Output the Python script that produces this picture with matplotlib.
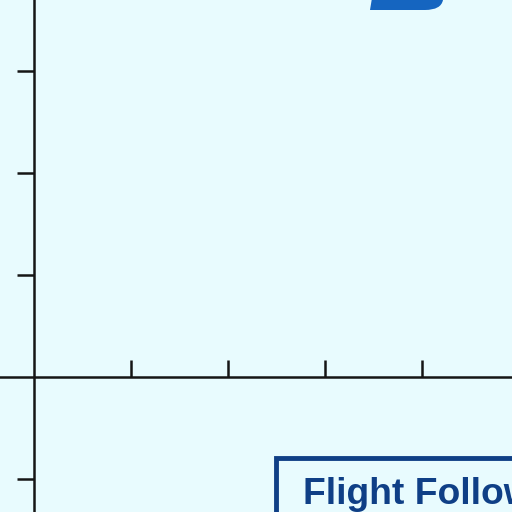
import matplotlib
matplotlib.use("Agg")
import matplotlib.pyplot as plt
from matplotlib.patches import Rectangle, PathPatch
from matplotlib.path import Path

# tick positions on the two crossing axes
x_ticks = [1, 2, 3, 4]
y_ticks = [-1, 1, 2, 3]
box_label = "Flight Following"

bg = "#e8fbfe"
axis_col = "#151515"

fig = plt.figure(figsize=(5.12, 5.12), dpi=100, facecolor=bg)
ax = fig.add_axes([0, 0, 1, 1], facecolor=bg)

# pixel layout: origin at (33.5, 377), ~97 px per x unit, ~102 px per y unit
ax.set_xlim(-33.5 / 97.2, (512 - 33.5) / 97.2)
ax.set_ylim(-(512 - 377) / 102, 377 / 102)

for s in ["top", "right"]:
    ax.spines[s].set_visible(False)
for s in ["left", "bottom"]:
    ax.spines[s].set_position("zero")
    ax.spines[s].set_linewidth(1.8)
    ax.spines[s].set_color(axis_col)

ax.set_xticks(x_ticks)
ax.set_yticks(y_ticks)
ax.set_xticklabels([])
ax.set_yticklabels([])
ax.tick_params(axis="x", direction="in", length=12.5, width=1.8, color=axis_col)
ax.tick_params(axis="y", direction="out", length=12.5, width=1.8, color=axis_col)


def px(x, y):
    return (x / 512, 1 - y / 512)


# blue shape peeking in from the top edge
verts = [px(372, -2), px(444, -2), px(443, 0), px(441, 10), px(425, 10), px(370, 10), px(372, -2)]
codes = [Path.MOVETO, Path.LINETO, Path.LINETO, Path.CURVE3, Path.CURVE3, Path.LINETO, Path.CLOSEPOLY]
fig.patches.append(PathPatch(Path(verts, codes), facecolor="#1565c0", edgecolor="none",
                             transform=fig.transFigure))

# framed label box at the bottom right
x0, y0 = px(276, 530)
x1, y1 = px(540, 458)
fig.patches.append(Rectangle((x0, y0), x1 - x0, y1 - y0, facecolor=bg, edgecolor="#0f3f86",
                             linewidth=3.5, transform=fig.transFigure))
tx, ty = px(303, 504)
fig.text(tx, ty, box_label, fontsize=26.8, fontweight="bold", color="#0f3f86",
         family="Liberation Sans", ha="left", va="baseline")

fig.savefig("out.png", dpi=100, facecolor=bg)
